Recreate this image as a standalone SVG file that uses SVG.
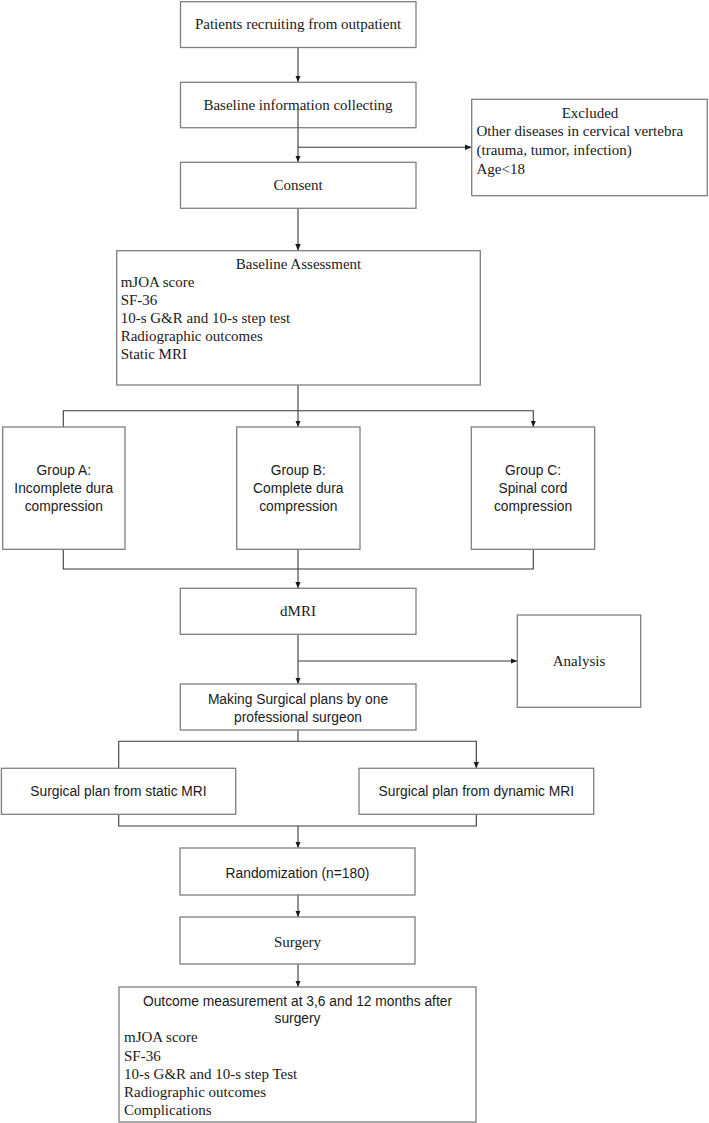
<svg xmlns="http://www.w3.org/2000/svg" width="709" height="1123" viewBox="0 0 709 1123">
<style>
.box{fill:#fff;stroke:#7f7f7f;stroke-width:1.3}
.serif{font-family:"Liberation Serif","Times New Roman",serif;font-size:15px;fill:#1a1a1a}
.sans{font-family:"Liberation Sans",Arial,sans-serif;font-size:13.8px;fill:#1a1a1a}
.c{text-anchor:middle}
.conn{fill:none;stroke:#3a3a3a;stroke-width:1.1}
</style>
<defs>
<marker id="arr" markerUnits="userSpaceOnUse" markerWidth="7" markerHeight="6" refX="6.5" refY="3" orient="auto">
<path d="M0,0.3 L6.5,3 L0,5.7 z" fill="#1a1a1a"/>
</marker>
</defs>
<rect width="709" height="1123" fill="#fff"/>

<g id="connectors">
<line class="conn" x1="298" y1="47.5" x2="298" y2="82" marker-end="url(#arr)"/>
<line class="conn" x1="298" y1="109" x2="298" y2="162" marker-end="url(#arr)"/>
<line class="conn" x1="298" y1="147.3" x2="471.5" y2="147.3" marker-end="url(#arr)"/>
<line class="conn" x1="298" y1="208.3" x2="298" y2="250.5" marker-end="url(#arr)"/>
<line class="conn" x1="298" y1="385" x2="298" y2="427" marker-end="url(#arr)"/>
<polyline class="conn" points="63.3,427 63.3,410.7 533.3,410.7 533.3,427" marker-start="url(#arr)" marker-end="url(#arr)"/>
<polyline class="conn" points="63.3,549.3 63.3,569 533.3,569 533.3,549.3"/>
<line class="conn" x1="298" y1="549.3" x2="298" y2="588.3" marker-end="url(#arr)"/>
<line class="conn" x1="298" y1="634.3" x2="298" y2="684" marker-end="url(#arr)"/>
<line class="conn" x1="298" y1="661" x2="517.3" y2="661" marker-end="url(#arr)"/>
<line class="conn" x1="298" y1="730" x2="298" y2="741.3"/>
<polyline class="conn" points="118.7,768.3 118.7,741.3 476.3,741.3 476.3,768.3" marker-start="url(#arr)" marker-end="url(#arr)"/>
<polyline class="conn" points="118.7,814.3 118.7,826 476.3,826 476.3,814.3"/>
<line class="conn" x1="298" y1="826" x2="298" y2="848" marker-end="url(#arr)"/>
<line class="conn" x1="298" y1="895" x2="298" y2="917" marker-end="url(#arr)"/>
<line class="conn" x1="298" y1="964" x2="298" y2="987" marker-end="url(#arr)"/>
</g>

<g id="n-patients">
<rect class="box" x="180.5" y="1.7" width="235.5" height="45.8"/>
<text class="serif c" x="298" y="29">Patients recruiting from outpatient</text>
</g>
<g id="n-baseline-info">
<rect class="box" x="180.5" y="82.3" width="235.5" height="45.4"/>
<text class="serif c" x="298" y="110">Baseline information collecting</text>
</g>
<line class="conn" x1="298" y1="109" x2="298" y2="127.7"/>
<g id="n-excluded">
<rect class="box" x="471.7" y="99.3" width="235.6" height="96.4"/>
<text class="serif c" x="590" y="118">Excluded</text>
<text class="serif" x="476.5" y="136">Other diseases in cervical vertebra</text>
<text class="serif" x="476.5" y="155">(trauma, tumor, infection)</text>
<text class="serif" x="476.5" y="173.5">Age&lt;18</text>
</g>
<g id="n-consent">
<rect class="box" x="180.5" y="162.3" width="235.5" height="46"/>
<text class="serif c" x="298" y="190">Consent</text>
</g>
<g id="n-baseline-assessment">
<rect class="box" x="116.7" y="250.7" width="363.6" height="134.3"/>
<text class="serif c" x="298.5" y="269">Baseline Assessment</text>
<text class="serif" x="120.7" y="287">mJOA score</text>
<text class="serif" x="120.7" y="305">SF-36</text>
<text class="serif" x="120.7" y="323">10-s G&amp;R and 10-s step test</text>
<text class="serif" x="120.7" y="341">Radiographic outcomes</text>
<text class="serif" x="120.7" y="359">Static MRI</text>
</g>
<g id="n-group-a">
<rect class="box" x="2.7" y="427" width="122.3" height="122.3"/>
<text class="sans c" x="63.8" y="475">Group A:</text>
<text class="sans c" x="63.8" y="493">Incomplete dura</text>
<text class="sans c" x="63.8" y="511">compression</text>
</g>
<g id="n-group-b">
<rect class="box" x="236.7" y="427" width="123.3" height="122.3"/>
<text class="sans c" x="298.3" y="475">Group B:</text>
<text class="sans c" x="298.3" y="493">Complete dura</text>
<text class="sans c" x="298.3" y="511">compression</text>
</g>
<g id="n-group-c">
<rect class="box" x="471.3" y="427" width="123.4" height="122.3"/>
<text class="sans c" x="533" y="475">Group C:</text>
<text class="sans c" x="533" y="493">Spinal cord</text>
<text class="sans c" x="533" y="511">compression</text>
</g>
<g id="n-dmri">
<rect class="box" x="180.3" y="588.3" width="235.7" height="46"/>
<text class="serif c" x="298" y="615.5">dMRI</text>
</g>
<g id="n-analysis">
<rect class="box" x="517.3" y="615" width="123.4" height="92.3"/>
<text class="serif c" x="579" y="666">Analysis</text>
</g>
<g id="n-making">
<rect class="box" x="180.3" y="684" width="235.7" height="46"/>
<text class="sans c" x="298" y="704">Making Surgical plans by one</text>
<text class="sans c" x="298" y="721.5">professional surgeon</text>
</g>
<g id="n-static">
<rect class="box" x="1.4" y="768.3" width="234.3" height="46"/>
<text class="sans c" x="118.5" y="796">Surgical plan from static MRI</text>
</g>
<g id="n-dynamic">
<rect class="box" x="359" y="768.3" width="234.7" height="46"/>
<text class="sans c" x="476.3" y="796">Surgical plan from dynamic MRI</text>
</g>
<g id="n-randomization">
<rect class="box" x="180" y="848" width="235" height="47"/>
<text class="sans c" x="297.5" y="878">Randomization (n=180)</text>
</g>
<g id="n-surgery">
<rect class="box" x="180" y="917" width="235" height="47"/>
<text class="serif c" x="297.5" y="946.5">Surgery</text>
</g>
<g id="n-outcome">
<rect class="box" x="119" y="987" width="357" height="135"/>
<text class="sans c" x="297.5" y="1006">Outcome measurement at 3,6 and 12 months after</text>
<text class="sans c" x="297.5" y="1023">surgery</text>
<text class="serif" x="124" y="1042">mJOA score</text>
<text class="serif" x="124" y="1060.5">SF-36</text>
<text class="serif" x="124" y="1078.5">10-s G&amp;R and 10-s step Test</text>
<text class="serif" x="124" y="1096.5">Radiographic outcomes</text>
<text class="serif" x="124" y="1114.5">Complications</text>
</g>
</svg>
